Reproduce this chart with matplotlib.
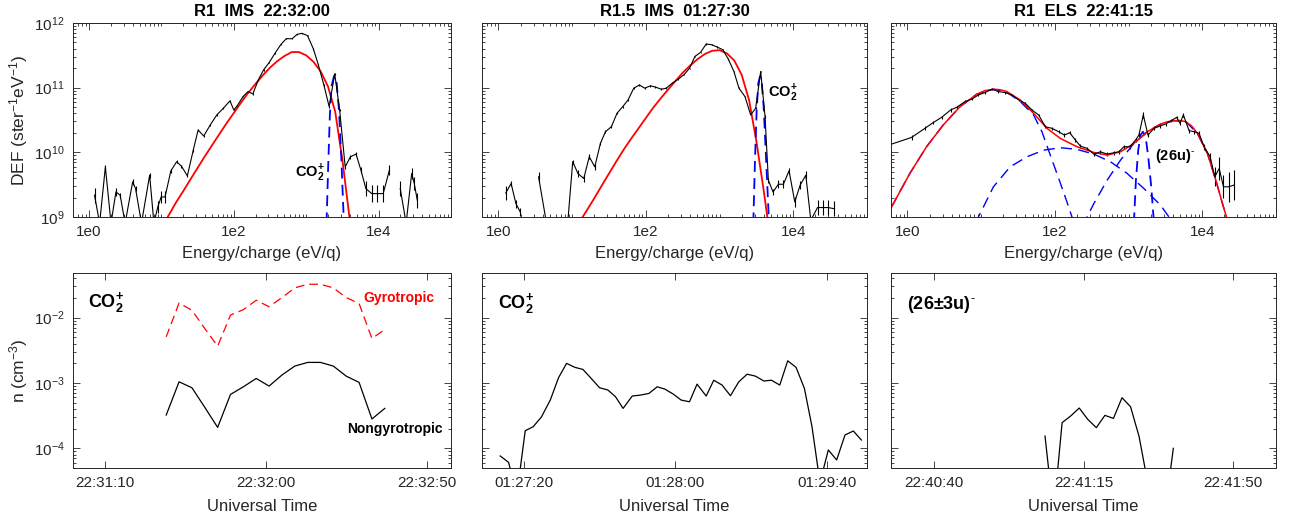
import numpy as np
import matplotlib
matplotlib.use('Agg')
import matplotlib.pyplot as plt
from matplotlib.ticker import FixedLocator, FixedFormatter, LogLocator, NullFormatter, NullLocator

# --- fonts ---
plt.rcParams['font.family'] = ['Liberation Sans', 'DejaVu Sans']
plt.rcParams['mathtext.fontset'] = 'custom'
plt.rcParams['mathtext.rm'] = 'Liberation Sans'
plt.rcParams['mathtext.it'] = 'Liberation Sans:italic'
plt.rcParams['mathtext.bf'] = 'Liberation Sans:bold'
plt.rcParams['mathtext.default'] = 'regular'

nan = np.nan

# ---------------- top row: energy spectra ----------------
# R1 IMS 22:32:00
E1 = [1.19, 1.40, 1.68, 2.01, 2.35, 2.69, 3.15, 4.0, 4.39, 5.3, 6.87, 7.87, 8.9, 9.9, 11.2,
      13.5, 16.2, 18.9, 22.8, 27.5, 32.1, 38.4, 47.2, 58.2, 71.6, 88.3, 100, 111, 134, 157,
      183, 218, 258, 308, 372, 444, 530, 639, 747, 873, 1042, 1258, 1469, 1754, 2074,
      2476, 2895, 3454, 4080, 4874, 5700, 6666, 8040, 9600, 11570, 14090, 16800, 19900,
      23990, 28640, 31100, 34200]
DEF1 = [2.17e9, 8e8, 5.97e9, 8e8, 2.44e9, 2.17e9, 8e8, 3.49e9, 2.75e9, 8e8, 4.43e9, 8e8,
        1.43e9, 2.04e9, 2.04e9, 5.18e9, 7.14e9, 6.11e9, 4.33e9, 1.08e10, 2.21e10, 1.79e10,
        2.65e10, 3.79e10, 4.8e10, 6.24e10, 4.52e10, 5.22e10, 7.28e10, 8.71e10, 8.01e10,
        1.32e11, 1.89e11, 2.45e11, 3.43e11, 4.62e11, 5.72e11, 5.72e11, 6.68e11, 6.93e11,
        6.37e11, 3.96e11, 2.26e11, 1.1e11, 5.09e10, 1.64e11, 4.52e10, 5.97e9, 8.53e9,
        9.39e9, 5.3e9, 2.75e9, 2.3e9, 2.3e9, 2.3e9, 5.3e9, nan, 2.75e9, 8e8, 4.71e9,
        3.29e9, 1.82e9]
ERR1 = [1.3, 1.0, 1.08, 1.0, 1.15, 1.1, 1.0, 1.1, 1.1, 1.0, 1.1, 1.0, 1.25, 1.25, 1.25,
        1.08, 1.06, 1.06, 1.06, 1.05, 1.05, 1.05, 1.04, 1.04, 1.04, 1.04, 1.04, 1.04, 1.03,
        1.03, 1.03, 1.03, 1.03, 1.02, 1.02, 1.02, 1.02, 1.02, 1.02, 1.02, 1.02, 1.02, 1.02,
        1.03, 1.04, 1.03, 1.04, 1.1, 1.08, 1.08, 1.1, 1.3, 1.35, 1.35, 1.35, 1.2, 1.0, 1.3,
        1.0, 1.2, 1.25, 1.3]
FIT1_E = [12.2, 15.8, 20.0, 25.1, 31.6, 39.8, 50.1, 63.1, 79.4, 100, 126, 158, 200, 251,
          316, 398, 501, 631, 794, 1000, 1259, 1585, 1995, 2512, 3162, 3981]
FIT1_D = [1e9, 1.66e9, 2.51e9, 3.80e9, 5.75e9, 8.71e9, 1.29e10, 1.91e10, 2.82e10, 4.07e10,
          5.89e10, 8.32e10, 1.15e11, 1.55e11, 2.04e11, 2.57e11, 3.09e11, 3.55e11, 3.55e11,
          3.16e11, 2.51e11, 1.78e11, 1.05e11, 4.27e10, 7.59e9, 9.33e8]
CO2_1_E = [1908, 2010, 2118, 2230, 2425, 2636, 2833, 3048, 3313]
CO2_1_D = [8e8, 5.97e9, 3.57e10, 1.04e11, 1.52e11, 1.17e11, 4.52e10, 8.53e9, 8e8]

# R1.5 IMS 01:27:30
E2 = [1.26, 1.49, 1.73, 1.98, 2.32, 3.51, 4.42, 8.79, 10.2, 12.0, 14.4, 17.1, 20.3, 24.2,
      28.3, 34.1, 40.7, 48.6, 57.5, 68.6, 81.9, 96.8, 115.6, 135, 163, 189, 228, 275, 328,
      392, 463, 552, 659, 778, 929, 1109, 1312, 1567, 1833, 2212, 2642, 3090, 3614, 4140,
      4594, 5312, 6280, 7344, 8770, 10480, 12380, 14790, 17300, 21320, 24950, 29800, 35150]
DEF2 = [2.35e9, 3.29e9, 1.61e9, 1.2e9, nan, 4.18e9, 9e8, 9e8, 7.15e9, 4.71e9, 3.94e9,
        8.53e9, 5.97e9, 1.37e10, 2.08e10, 2.49e10, 4.02e10, 5.09e10, 6.47e10, 9.82e10,
        1.1e11, 9.82e10, 1.07e11, 1.02e11, 9.46e10, 9.82e10, 1.17e11, 1.35e11, 1.58e11,
        2.0e11, 3.04e11, 3.51e11, 4.73e11, 4.62e11, 4.25e11, 3.86e11, 2.77e11, 1.78e11,
        9.82e10, 7.28e10, 3.79e10, 4.8e10, 1.78e11, 3.57e10, 3.71e9, 2.44e9, 3.21e9,
        3.21e9, 5.18e9, 1.71e9, 3.1e9, 4.43e9, 8.9e8, 1.4e9, 1.4e9, 1.4e9, 1.35e9]
ERR2 = [1.3, 1.1, 1.15, 1.15, 1.0, 1.2, 1.0, 1.0, 1.08, 1.15, 1.15, 1.1, 1.12, 1.06, 1.05,
        1.05, 1.04, 1.04, 1.03, 1.03, 1.03, 1.03, 1.03, 1.03, 1.03, 1.03, 1.03, 1.03, 1.02,
        1.02, 1.02, 1.02, 1.02, 1.02, 1.02, 1.02, 1.02, 1.02, 1.03, 1.03, 1.04, 1.04, 1.03,
        1.04, 1.1, 1.12, 1.15, 1.15, 1.12, 1.2, 1.15, 1.15, 1.0, 1.3, 1.3, 1.3, 1.3]
FIT2_E = [13.9, 15.8, 20.0, 25.1, 31.6, 39.8, 50.1, 63.1, 79.4, 100, 126, 158, 200, 251,
          316, 398, 501, 631, 794, 1000, 1259, 1585, 1995, 2512, 3162, 3981, 4449]
FIT2_D = [1e9, 1.26e9, 1.95e9, 3.02e9, 4.68e9, 7.24e9, 1.10e10, 1.62e10, 2.34e10, 3.39e10,
          4.90e10, 6.76e10, 9.33e10, 1.26e11, 1.70e11, 2.19e11, 2.75e11, 3.31e11, 3.72e11,
          3.80e11, 3.39e11, 2.63e11, 1.58e11, 6.46e10, 1.48e10, 2.51e9, 1e9]
CO2_2_E = [2870, 3025, 3187, 3357, 3535, 3724, 3964, 4266, 4690]
CO2_2_D = [8e8, 7.57e9, 4.52e10, 1.17e11, 1.49e11, 1.25e11, 5.09e10, 8.53e9, 8e8]

# R1 ELS 22:41:15
E3 = [0.61, 1.14, 1.73, 2.24, 2.92, 3.86, 4.67, 6.06, 7.46, 9.2, 11.3, 14.0, 17.2, 21.2,
      26.1, 32.2, 39.7, 48.9, 60.3, 74.3, 91.4, 113, 135, 159, 190, 222, 274, 338, 416, 513,
      631, 738, 863, 1042, 1245, 1383, 1585, 1834, 2213, 2668, 3187, 3800, 4497, 4990,
      5543, 6620, 7740, 9060, 10590, 12790, 14800, 16950, 19400, 22700, 26550]
DEF3 = [1.34e10, 1.7e10, 2.35e10, 2.88e10, 3.48e10, 4.52e10, 4.97e10, 6.1e10, 6.62e10,
        7.73e10, 8.4e10, 9.46e10, 8.71e10, 8.4e10, 7.73e10, 6.47e10, 5.74e10, 4.52e10,
        3.79e10, 2.49e10, 2.35e10, 2.08e10, 1.85e10, 2.01e10, 1.55e10, 1.25e10, 1.15e10,
        9.39e9, 1.02e10, 9.39e9, 9.85e9, 1.02e10, 1.22e10, 1.22e10, 1.55e10, 1.85e10,
        3.79e10, 1.85e10, 2.35e10, 2.55e10, 2.74e10, 3.09e10, 3.48e10, 2.81e10, 3.79e10,
        2.16e10, 2.09e10, 1.96e10, 1.22e10, 8.53e9, 4.18e9, 5.62e9, 2.93e9, 2.93e9, 3.1e9]
ERR3 = [1.0, 1.08, 1.08, 1.06, 1.06, 1.06, 1.05, 1.05, 1.04, 1.04, 1.04, 1.04, 1.04, 1.04,
        1.04, 1.04, 1.05, 1.05, 1.05, 1.05, 1.05, 1.06, 1.06, 1.06, 1.06, 1.07, 1.07, 1.07,
        1.07, 1.07, 1.07, 1.07, 1.07, 1.07, 1.07, 1.07, 1.1, 1.07, 1.07, 1.07, 1.06, 1.06,
        1.06, 1.06, 1.06, 1.07, 1.07, 1.08, 1.12, 1.15, 1.4, 1.5, 1.5, 1.7, 1.7]
FIT3_E = [0.61, 1.08, 1.82, 3.07, 5.18, 8.73, 11.3, 14.7, 18.0, 22.3, 33.9, 51.5, 78.2, 119,
          200, 338, 513, 778, 1181, 1794, 2722, 3400, 4140, 5000, 5970, 7200, 8600, 11750,
          15270, 18800, 21300]
FIT3_D = [1.43e9, 4.71e9, 1.22e10, 2.65e10, 5.09e10, 7.92e10, 9.0e10, 9.46e10, 9.3e10,
          8.71e10, 6.47e10, 4.02e10, 2.35e10, 1.64e10, 1.22e10, 9.96e9, 9.06e9, 1.02e10,
          1.37e10, 2.08e10, 2.74e10, 2.98e10, 3.09e10, 3.1e10, 2.98e10, 2.55e10, 1.96e10,
          9.6e9, 3.71e9, 1.61e9, 1e9]
# fitted components (blue dashed)
CA_E = [0.61, 1.08, 1.82, 3.07, 5.18, 8.73, 14.7, 22.3, 33.9, 51.5, 66.9, 86.8, 113, 146, 171, 190]
CA_D = [1.43e9, 4.71e9, 1.22e10, 2.65e10, 5.09e10, 7.92e10, 9.46e10, 8.53e10, 6.1e10,
        3.79e10, 2.08e10, 9.06e9, 3.94e9, 1.71e9, 1e9, 6e8]
CB_E = [8.5, 9.2, 14.7, 24.8, 41.8, 70.5, 119, 200, 338, 569, 959, 1618, 2722, 3538, 3900]
CB_D = [8e8, 1e9, 2.93e9, 5.97e9, 8.53e9, 1.08e10, 1.18e10, 1.11e10, 9.39e9, 7.15e9,
        4.71e9, 2.75e9, 1.52e9, 1e9, 8e8]
CC_E = [250, 274, 338, 513, 778, 1181, 1794, 2722, 4140, 5970, 8600, 11750, 15270, 18800, 21300, 23000]
CC_D = [7e8, 1e9, 1.61e9, 3.71e9, 7.57e9, 1.37e10, 2.08e10, 2.74e10, 3.09e10, 2.98e10,
        1.96e10, 9.6e9, 3.71e9, 1.61e9, 1e9, 7e8]
CD_E = [1181, 1259, 1353, 1455, 1566, 1703, 1850, 2032, 2213]
CD_D = [8e8, 3.71e9, 1.08e10, 1.85e10, 2.08e10, 1.75e10, 8.53e9, 2.93e9, 8e8]

# ---------------- bottom row: densities ----------------
# seconds after 22:31:00
T1 = [29, 33, 37, 41, 45, 49, 53, 57, 61, 65, 69, 73, 77, 81, 85, 89, 93, 97]
N1_NONGYRO = [3.23e-4, 1.04e-3, 8.44e-4, 4.23e-4, 2.09e-4, 6.67e-4, 8.73e-4, 1.17e-3,
              8.95e-4, 1.32e-3, 1.81e-3, 2.06e-3, 2.06e-3, 1.81e-3, 1.27e-3, 1.02e-3,
              2.81e-4, 4.08e-4]
N1_GYRO = [5.07e-3, 1.67e-2, 1.29e-2, 6.79e-3, 3.65e-3, 1.09e-2, 1.32e-2, 1.84e-2, 1.46e-2,
           2.02e-2, 2.84e-2, 3.23e-2, 3.23e-2, 2.84e-2, 2.02e-2, 1.64e-2, 4.78e-3, 6.56e-3]
T1_TICKS = [10, 60, 110]
T1_LABELS = ['22:31:10', '22:32:00', '22:32:50']
T1_LIM = (0, 117.6)

# seconds after 01:27:00
T2 = [13.8, 16.0, 18.2, 20.4, 22.5, 24.7, 27.0, 29.2, 31.3, 33.5, 35.6, 37.8, 40.0, 42.2,
      44.2, 46.2, 48.6, 50.8, 53.0, 55.2, 57.2, 59.4, 61.5, 63.7, 65.7, 68.1, 70.1, 72.3,
      74.5, 76.7, 78.9, 81.1, 83.3, 85.3, 87.5, 89.6, 91.8, 94.0, 96.0, 98.1, 100.3, 102.5,
      104.7, 106.9, 109.0]
N2 = [7.64e-5, 6.1e-5, 2e-5, 1.86e-4, 2.14e-4, 3.04e-4, 5.47e-4, 1.21e-3, 1.99e-3, 1.73e-3,
      1.61e-3, 1.17e-3, 8.44e-4, 7.78e-4, 6.15e-4, 4.08e-4, 6.3e-4, 6.52e-4, 6.91e-4,
      8.73e-4, 8.05e-4, 6.76e-4, 5.47e-4, 5.15e-4, 9.59e-4, 6.3e-4, 1.1e-3, 9.27e-4,
      6.37e-4, 1.04e-3, 1.36e-3, 1.27e-3, 1.07e-3, 1.1e-3, 9.27e-4, 2.18e-3, 1.73e-3,
      8.24e-4, 2.14e-4, 3e-5, 9.43e-5, 6.64e-5, 1.6e-4, 1.84e-4, 1.34e-4]
T2_TICKS = [20, 60, 100]
T2_LABELS = ['01:27:20', '01:28:00', '01:29:40']
T2_LIM = (9.0, 110.5)

# seconds after 22:40:30
T3 = [36, 38, 40, 42, 44, 46, 48, 50, 52, 54, 56, 58, 60, 62, 64, 66]
N3 = [1.54e-4, 1e-5, 2.47e-4, 3.12e-4, 4.13e-4, 2.77e-4, 2.07e-4, 3.19e-4, 2.87e-4,
      5.94e-4, 4.33e-4, 1.51e-4, 3e-5, 1e-5, 1e-5, 1e-4]
T3_TICKS = [10, 45, 80]
T3_LABELS = ['22:40:40', '22:41:15', '22:41:50']
T3_LIM = (0, 90)

TITLES = ['R1  IMS  22:32:00', 'R1.5  IMS  01:27:30', 'R1  ELS  22:41:15']

AX_COLOR = '#262626'
RED = '#ff0000'
BLUE = '#0000ff'

W, H = 1297, 521
fig = plt.figure(figsize=(W / 100, H / 100), dpi=100)


def rect(x0, x1, y0, y1):
    return [x0 / W, (H - y1) / H, (x1 - x0) / W, (y1 - y0) / H]


cols = [(73, 451), (482, 867), (891, 1276)]
top_axes = [fig.add_axes(rect(c[0], c[1], 23, 217)) for c in cols]
bot_axes = [fig.add_axes(rect(c[0], c[1], 273, 468)) for c in cols]


def style(ax):
    for s in ax.spines.values():
        s.set_color(AX_COLOR)
        s.set_linewidth(0.7)
    ax.tick_params(which='both', direction='in', top=True, right=True,
                   colors=AX_COLOR, labelsize=11, width=0.6)
    ax.tick_params(which='major', length=5, pad=6)
    ax.tick_params(which='minor', length=2.5)


def spectrum(ax, e, d, err):
    e = np.array(e)
    d = np.array(d)
    f = np.array(err)
    ax.errorbar(e, d, yerr=[d - d / f, d * f - d], fmt='-', color='k', lw=0.8,
                elinewidth=0.8, capsize=0)


# --- top row ---
spectrum(top_axes[0], E1, DEF1, ERR1)
top_axes[0].plot(FIT1_E, FIT1_D, color=RED, lw=1.3)
top_axes[0].plot(CO2_1_E, CO2_1_D, color=BLUE, lw=1.3, ls=(0, (6, 3.5)))

spectrum(top_axes[1], E2, DEF2, ERR2)
top_axes[1].plot(FIT2_E, FIT2_D, color=RED, lw=1.3)
top_axes[1].plot(CO2_2_E, CO2_2_D, color=BLUE, lw=1.3, ls=(0, (6, 3.5)))

spectrum(top_axes[2], E3, DEF3, ERR3)
for ce, cd in [(CA_E, CA_D), (CB_E, CB_D), (CC_E, CC_D)]:
    top_axes[2].plot(ce, cd, color=BLUE, lw=1.0, ls=(0, (8, 4.5)))
top_axes[2].plot(CD_E, CD_D, color=BLUE, lw=1.3, ls=(0, (6, 3.5)))
top_axes[2].plot(FIT3_E, FIT3_D, color=RED, lw=1.1)

for i, ax in enumerate(top_axes):
    ax.set_xscale('log')
    ax.set_yscale('log')
    ax.set_xlim(0.6, 1e5)
    ax.set_ylim(1e9, 1e12)
    ax.xaxis.set_major_locator(FixedLocator([1, 100, 1e4]))
    ax.xaxis.set_major_formatter(FixedFormatter(['1e0', '1e2', '1e4']))
    ax.xaxis.set_minor_locator(LogLocator(base=10, subs=np.arange(1, 10), numticks=30))
    ax.xaxis.set_minor_formatter(NullFormatter())
    ax.yaxis.set_major_locator(LogLocator(base=10, numticks=10))
    ax.yaxis.set_minor_locator(LogLocator(base=10, subs=np.arange(2, 10), numticks=30))
    ax.yaxis.set_minor_formatter(NullFormatter())
    style(ax)
    ax.set_xlabel('Energy/charge (eV/q)', fontsize=12, color=AX_COLOR, labelpad=5)
    ax.set_title(TITLES[i], fontsize=12, fontweight='bold', pad=5)
    if i > 0:
        ax.tick_params(axis='y', labelleft=False)
top_axes[0].set_ylabel('DEF (ster$^{-1}$eV$^{-1}$)', fontsize=12.5, color=AX_COLOR, labelpad=3)

top_axes[0].text(0.587, 0.224, 'CO$_\\mathbf{2}^\\mathbf{+}$', transform=top_axes[0].transAxes,
                 fontsize=10.5, fontweight='bold', va='center', ha='left')
top_axes[1].text(0.743, 0.639, 'CO$_\\mathbf{2}^\\mathbf{+}$', transform=top_axes[1].transAxes,
                 fontsize=10.5, fontweight='bold', va='center', ha='left')
top_axes[2].text(0.686, 0.314, '(26u)$^{\\text{-}}$', transform=top_axes[2].transAxes,
                 fontsize=10.5, fontweight='bold', va='center', ha='left')

# --- bottom row ---
b1, b2, b3 = bot_axes
b1.plot(T1, N1_GYRO, color=RED, lw=0.9, ls=(0, (7, 4)))
b1.plot(T1, N1_NONGYRO, color='k', lw=0.9)
b2.plot(T2, N2, color='k', lw=0.9)
b3.plot(T3, N3, color='k', lw=0.9)

for ax, ticks, labels, lim in [(b1, T1_TICKS, T1_LABELS, T1_LIM),
                               (b2, T2_TICKS, T2_LABELS, T2_LIM),
                               (b3, T3_TICKS, T3_LABELS, T3_LIM)]:
    ax.set_yscale('log')
    ax.set_ylim(5e-5, 4.8e-2)
    ax.set_xlim(*lim)
    ax.xaxis.set_major_locator(FixedLocator(ticks))
    ax.xaxis.set_major_formatter(FixedFormatter(labels))
    ax.xaxis.set_minor_locator(NullLocator())
    ax.yaxis.set_major_locator(LogLocator(base=10, numticks=10))
    ax.yaxis.set_minor_locator(LogLocator(base=10, subs=np.arange(2, 10), numticks=30))
    ax.yaxis.set_minor_formatter(NullFormatter())
    style(ax)
    ax.set_xlabel('Universal Time', fontsize=12, color=AX_COLOR, labelpad=6)
b2.tick_params(axis='y', labelleft=False)
b3.tick_params(axis='y', labelleft=False)
b1.set_ylabel('n (cm$^{-3}$)', fontsize=12.5, color=AX_COLOR, labelpad=3)

b1.text(0.04, 0.849, 'CO$_\\mathbf{2}^\\mathbf{+}$', transform=b1.transAxes,
        fontsize=13, fontweight='bold', va='center', ha='left')
b1.text(0.767, 0.872, 'Gyrotropic', transform=b1.transAxes, color=RED,
        fontsize=10, fontweight='bold', va='center', ha='left')
b1.text(0.725, 0.2, 'Nongyrotropic', transform=b1.transAxes, color='k',
        fontsize=10, fontweight='bold', va='center', ha='left')
b2.text(0.042, 0.844, 'CO$_\\mathbf{2}^\\mathbf{+}$', transform=b2.transAxes,
        fontsize=13, fontweight='bold', va='center', ha='left')
b3.text(0.042, 0.838, '(26±3u)$^{\\text{-}}$', transform=b3.transAxes,
        fontsize=13, fontweight='bold', va='center', ha='left')

fig.savefig('out.png', dpi=100)
